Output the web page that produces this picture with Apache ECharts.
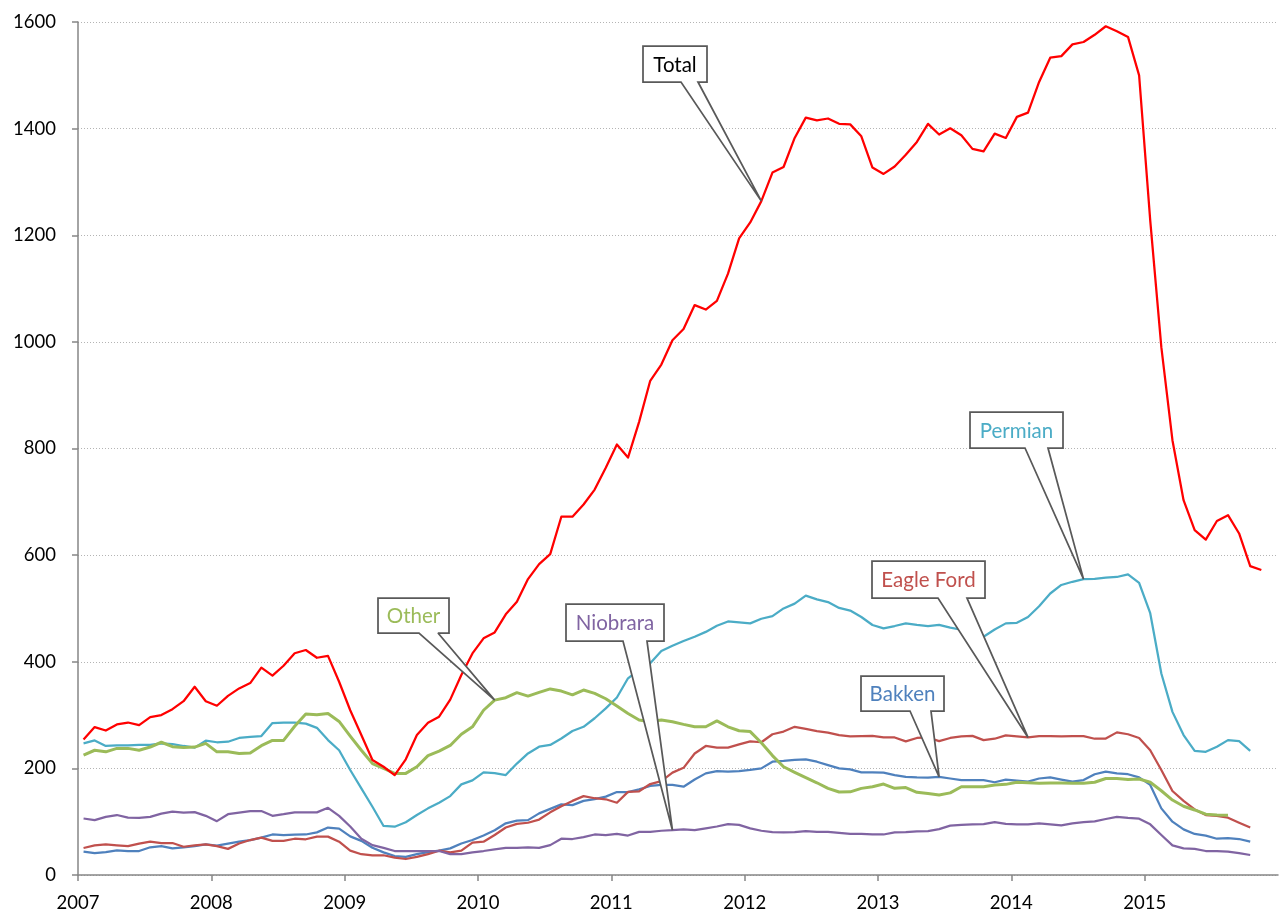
<!DOCTYPE html>
<html>
<head>
<meta charset="utf-8">
<script src="https://cdn.jsdelivr.net/npm/echarts@6/dist/echarts.min.js"></script>
<style>
  html, body { margin: 0; padding: 0; background: #fff; }
  #chart { width: 1286px; height: 918px; }
</style>
</head>
<body>
<div id="chart"></div>
<script>
// monthly rig counts, first value = Jan 2007
const startYear = 2007;

const total = [
  254, 277.5, 271, 282.5, 286, 281, 296, 300, 311, 326,
  353, 326, 317.5, 336, 350, 360, 389, 374, 392.5, 416,
  422, 407.5, 411, 362.5, 309, 262.5, 215.6, 203, 187.5, 217,
  262.5, 285.6, 297, 329, 375, 415.6, 444, 455, 489, 512.5,
  555, 583, 602, 672, 672, 695, 723, 764, 807.5, 783,
  850, 927, 957.5, 1003, 1024, 1069, 1060.6, 1077, 1128, 1194,
  1224, 1264, 1317.5, 1328, 1382.5, 1420.6, 1415.6, 1419, 1409, 1408,
  1385.6, 1327, 1315, 1329, 1351, 1375, 1409, 1389, 1400.6, 1387.5,
  1362, 1357.5, 1390.6, 1382.5, 1422, 1430, 1487.5, 1533, 1536, 1558,
  1562.5, 1576, 1592, 1582.5, 1572, 1500, 1228, 990, 815.6, 703,
  647, 629, 664, 675, 640.6, 579.4, 572
];

const permian = [
  247, 252.5, 242, 243, 243, 244, 244, 247, 245.6, 242,
  239, 252, 249, 250, 257, 259, 260.6, 285, 286, 285.6,
  284, 276, 253, 234, 197, 162.5, 128, 92, 90.6, 99,
  112.5, 125, 135.6, 148, 170, 177.5, 192.5, 191, 187.5, 209,
  228, 240.6, 244, 256, 270, 278, 294, 312.5, 333, 369,
  385, 397, 420, 430, 439, 447, 456, 467.5, 475.6, 474,
  472, 480.6, 485.6, 500, 509, 524, 517, 512, 501, 496,
  484, 469, 462.5, 467, 472, 469, 467, 469, 464, 460,
  442, 447, 460.6, 472, 473, 484, 504, 528, 544, 550,
  555, 555.6, 558, 559, 564, 548, 491, 378, 306, 262.5,
  233, 231, 240.6, 253, 251, 233
];

const eagleFord = [
  50.6, 55.6, 57.5, 55.6, 54, 59, 62.5, 60, 60, 53,
  55.6, 57.5, 54, 49, 59, 65.6, 70, 64, 64, 68,
  67, 72, 72, 62.5, 45.6, 39, 37, 37, 32.5, 30,
  34, 39, 45.6, 42.5, 45.6, 60.6, 62.5, 75, 89, 96,
  98, 104, 117.5, 129, 139, 148, 144, 142, 135.6, 156,
  157, 170.6, 176, 192, 201, 228, 242, 239, 239, 245,
  250.6, 249, 264, 269, 278, 274, 270, 267, 262.5, 260,
  260.6, 261, 258, 258, 250.6, 257, 258, 251, 257, 260,
  261, 253, 255.6, 262, 260, 258, 260.6, 260.6, 260, 260.6,
  260.6, 255.6, 256, 267.5, 264, 257, 234, 197, 157.5, 139,
  123, 112.5, 111, 107.5, 98, 89
];

const bakken = [
  44, 41, 43, 46, 45, 45, 52, 54, 50, 52,
  54, 57.5, 55, 59, 62.5, 65.6, 70, 76, 75, 75.6,
  76, 80, 89, 87, 72.5, 64, 51, 42.5, 35.6, 34,
  39, 43, 45.6, 50, 59, 65.6, 74, 84, 97, 102,
  103, 115.6, 124, 132.5, 131, 139, 142.5, 147, 155.6, 155.6,
  160.6, 167, 169, 169, 165.6, 179, 190.6, 195, 194, 195,
  197, 200, 212.5, 214, 216, 217, 212.5, 206, 200, 198,
  192.5, 192.5, 192, 187.5, 184, 183, 182.5, 184, 181, 178,
  178, 178, 174, 179, 177, 175, 181, 183, 179, 175,
  178, 189, 194, 190.6, 189, 183, 169, 125, 100, 85.6,
  77, 74, 68, 69, 67.5, 62.5
];

const niobrara = [
  106, 103, 109, 112.5, 107.5, 107, 109, 115, 119, 117,
  118, 111, 101, 114, 117, 120, 120, 111, 114, 117.5,
  117.5, 117.5, 126, 111, 91, 68, 56, 51, 45, 45,
  45, 45, 45, 39, 39, 42.5, 45, 48, 51, 51,
  52, 51, 56, 68, 67.5, 71, 76, 75, 77, 74,
  81, 81, 83, 84, 85.6, 84, 87.5, 91, 95.6, 94,
  87.5, 83, 80.6, 80, 80.6, 82.5, 81, 81, 79, 77,
  77, 76, 76, 80, 80.6, 82, 82.5, 86, 92.5, 94,
  95, 95.6, 99, 96, 95, 95, 97, 95, 93, 97,
  99, 100.6, 105, 109, 107, 105.6, 95, 75, 55.6, 50,
  49, 45, 45, 44, 41, 37.5
];

const other = [
  225, 234, 231, 237.5, 237.5, 234, 240, 249, 240.6, 239,
  240, 247, 231, 231, 228, 229, 242.5, 252.5, 252.5, 279,
  302, 300.6, 303, 288, 260.6, 234, 209, 200, 190.6, 190.6,
  203, 224, 232.5, 243, 264, 278, 309, 328, 332.5, 342,
  335.6, 342.5, 349, 345, 338, 347, 340.6, 330.6, 317, 303,
  290.6, 287.5, 290.6, 287.5, 282.5, 278, 278, 289, 278, 270.6,
  269, 248, 224, 203, 192.5, 182.5, 173, 162.5, 155.6, 156,
  162.5, 165.6, 170.6, 162.5, 164, 155, 153, 150, 154, 165.6,
  165.6, 165.6, 169, 170, 174, 173, 172, 172.5, 172.5, 172,
  172, 174, 181, 181, 179, 180, 174, 158, 140.6, 129,
  122, 114, 112.5, 112
];

const yTicks = { min: 0, max: 1600, step: 200 };
const xTicks = { min: 2007, max: 2016, step: 1 };

const font = 'Lato';

// x position of a month (middle of the month)
function monthPos(i) {
  return startYear + (i + 0.5) / 12;
}
function toPairs(values) {
  return values.map((v, i) => [monthPos(i), v]);
}

const seriesDefs = [
  { name: 'Bakken', data: bakken, color: '#4F81BD', width: 2.25 },
  { name: 'Eagle Ford', data: eagleFord, color: '#C0504D', width: 2.25 },
  { name: 'Niobrara', data: niobrara, color: '#8064A2', width: 2.25 },
  { name: 'Permian', data: permian, color: '#4BACC6', width: 2.25 },
  { name: 'Other', data: other, color: '#9BBB59', width: 3 },
  { name: 'Total', data: total, color: '#FF0000', width: 2.25 }
];

// callout boxes: box = [left, top, right, bottom], base = wedge start on box bottom
const callouts = [
  { name: 'Total', index: 61, box: [643, 46, 707, 82], base: [681, 698], textColor: '#000000' },
  { name: 'Other', index: 37, box: [378, 598, 449, 633], base: [419, 438] },
  { name: 'Niobrara', index: 53, box: [566, 604, 664, 641], base: [623, 647] },
  { name: 'Bakken', index: 77, box: [861, 676, 944, 711], base: [910, 931] },
  { name: 'Eagle Ford', index: 85, box: [872, 561, 985, 598], base: [938, 967] },
  { name: 'Permian', index: 90, box: [970, 412, 1063, 448], base: [1025, 1048] }
];

const chart = echarts.init(document.getElementById('chart'));

const option = {
  animation: false,
  backgroundColor: '#ffffff',
  grid: {
    left: 78,
    right: 8,
    top: 22,
    bottom: 43,
    containLabel: false,
    outerBoundsMode: 'none'
  },
  xAxis: {
    type: 'value',
    min: xTicks.min,
    max: xTicks.max,
    interval: xTicks.step,
    splitLine: { show: false },
    axisLine: { lineStyle: { color: '#868686', width: 1.5 } },
    axisTick: { show: true, length: 6, lineStyle: { color: '#868686', width: 1.5 } },
    axisLabel: {
      showMaxLabel: false,
      margin: 19,
      color: '#000000',
      fontFamily: font,
      fontSize: 18.5,
      formatter: v => String(v)
    }
  },
  yAxis: {
    type: 'value',
    min: yTicks.min,
    max: yTicks.max,
    interval: yTicks.step,
    axisLine: { show: true, lineStyle: { color: '#868686', width: 1.5 } },
    axisTick: { show: true, length: 6, lineStyle: { color: '#868686', width: 1.5 } },
    splitLine: { show: true, lineStyle: { color: '#b4b4b4', width: 1, type: [1, 2] } },
    axisLabel: {
      margin: 22,
      color: '#000000',
      fontFamily: font,
      fontSize: 18.5,
      formatter: v => String(v)
    }
  },
  series: seriesDefs.map(s => ({
    name: s.name,
    type: 'line',
    data: toPairs(s.data),
    showSymbol: false,
    smooth: false,
    silent: true,
    lineStyle: { color: s.color, width: s.width, join: 'round' },
    itemStyle: { color: s.color }
  }))
};

chart.setOption(option);

// draw callouts pointing at their data points
const graphics = [];
callouts.forEach(c => {
  const def = seriesDefs.find(s => s.name === c.name);
  const tip = chart.convertToPixel({ gridIndex: 0 }, [monthPos(c.index), def.data[c.index]]);
  const [x0, y0, x1, y1] = c.box;
  graphics.push({
    type: 'polygon',
    z: 100,
    shape: {
      points: [[x0, y0], [x1, y0], [x1, y1], [c.base[1], y1], tip, [c.base[0], y1], [x0, y1]]
    },
    style: { fill: '#ffffff', stroke: '#595959', lineWidth: 1.75, lineJoin: 'miter', miterLimit: 2 }
  });
  graphics.push({
    type: 'text',
    z: 101,
    x: (x0 + x1) / 2,
    y: (y0 + y1) / 2 + 1,
    style: {
      text: c.name,
      fill: c.textColor || def.color,
      fontFamily: font,
      fontSize: 20.5,
      align: 'center',
      verticalAlign: 'middle',
      textAlign: 'center',
      textVerticalAlign: 'middle'
    }
  });
});
chart.setOption({ graphic: graphics });
</script>
</body>
</html>
